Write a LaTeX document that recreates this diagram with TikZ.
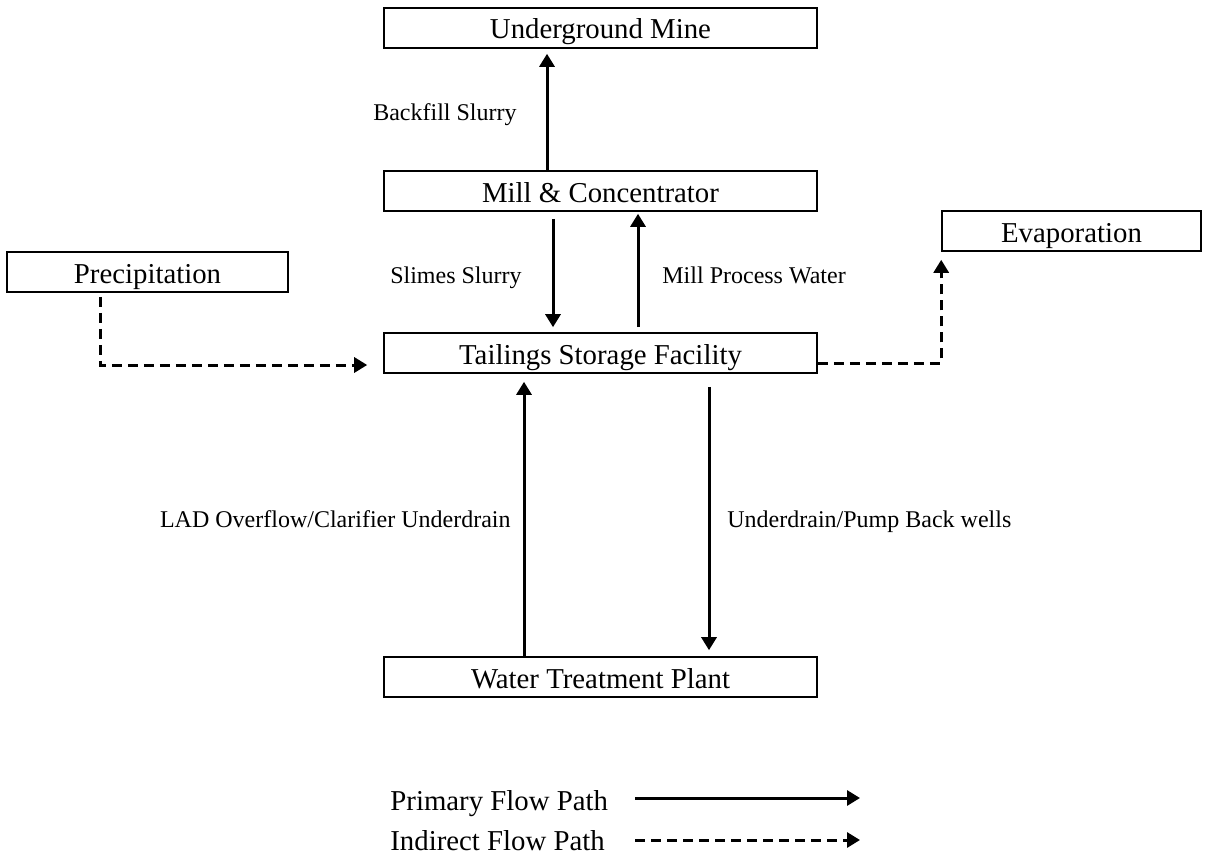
\documentclass[tikz,border=0pt]{standalone}
\usepackage{fontspec}
\setmainfont{Liberation Serif}
\usetikzlibrary{arrows.meta, positioning}

\begin{document}
\begin{tikzpicture}[x=0.5pt, y=-0.5pt,
    box/.style={draw, line width=0.8pt, minimum height=20pt, inner sep=0pt, text height=12pt, text depth=1pt, font=\fontsize{14.4}{17}\selectfont},
    flow/.style={line width=1.5pt, -{Triangle[length=6.5pt,width=7.5pt]}},
    indirect/.style={flow, dash pattern=on 5pt off 3pt},
    lbl/.style={font=\fontsize{12}{14}\selectfont, inner sep=0pt}]
\useasboundingbox (0,0) rectangle (1209,867);

% boxes
\node[box, minimum width=216.5pt] (mine) at (600.5,28) {Underground Mine};
\node[box, minimum width=216.5pt] (mill) at (600.5,191) {Mill \& Concentrator};
\node[box, minimum width=216.5pt] (tsf) at (600.5,353) {Tailings Storage Facility};
\node[box, minimum width=216.5pt] (wtp) at (600.5,677) {Water Treatment Plant};
\node[box, minimum width=140.5pt] (precip) at (147.5,272) {Precipitation};
\node[box, minimum width=129.5pt] (evap) at (1071.5,231) {Evaporation};

% primary flows
\draw[flow, shorten >=2.5pt] ([xshift=-26.75pt]mill.north) -- ([xshift=-26.75pt]mine.south);
\node[lbl, anchor=base east] (backfill) at (517,120) {Backfill Slurry};

\draw[flow, shorten <=3.5pt, shorten >=2.5pt] ([xshift=-23.75pt]mill.south) -- ([xshift=-23.75pt]tsf.north);
\node[lbl, anchor=base east] (slimes) at (522,283) {Slimes Slurry};

\draw[flow, shorten <=2.5pt, shorten >=1pt] ([xshift=18.75pt]tsf.north) -- ([xshift=18.75pt]mill.south);
\node[lbl, anchor=base west] (millwater) at (662,283) {Mill Process Water};

\draw[flow, shorten >=4pt] ([xshift=-38.25pt]wtp.north) -- ([xshift=-38.25pt]tsf.south);
\node[lbl, anchor=base east] (lad) at (511,527) {LAD Overflow/Clarifier Underdrain};

\draw[flow, shorten <=6.5pt, shorten >=3pt] ([xshift=54.25pt]tsf.south) -- ([xshift=54.25pt]wtp.north);
\node[lbl, anchor=base west] (underdrain) at (727,527) {Underdrain/Pump Back wells};

% indirect flows
\draw[indirect, shorten <=2pt, shorten >=8pt] ([xshift=-23.75pt]precip.south) |- ([yshift=-6pt]tsf.west);
\draw[indirect, shorten >=4pt] ([yshift=-5pt]tsf.east) -| (evap.south west);

% legend
\node[lbl, font=\fontsize{14.4}{17}\selectfont, anchor=base west] (primary) at (390,810) {Primary Flow Path};
\node[lbl, font=\fontsize{14.4}{17}\selectfont, anchor=base west] (indir) at (390,850) {Indirect Flow Path};
\coordinate (pstart) at (635,798);
\coordinate (pend) at (860,798);
\coordinate (istart) at (635,840);
\coordinate (iend) at (860,840);
\draw[flow] (pstart) -- (pend);
\draw[indirect] (istart) -- (iend);

\end{tikzpicture}
\end{document}
